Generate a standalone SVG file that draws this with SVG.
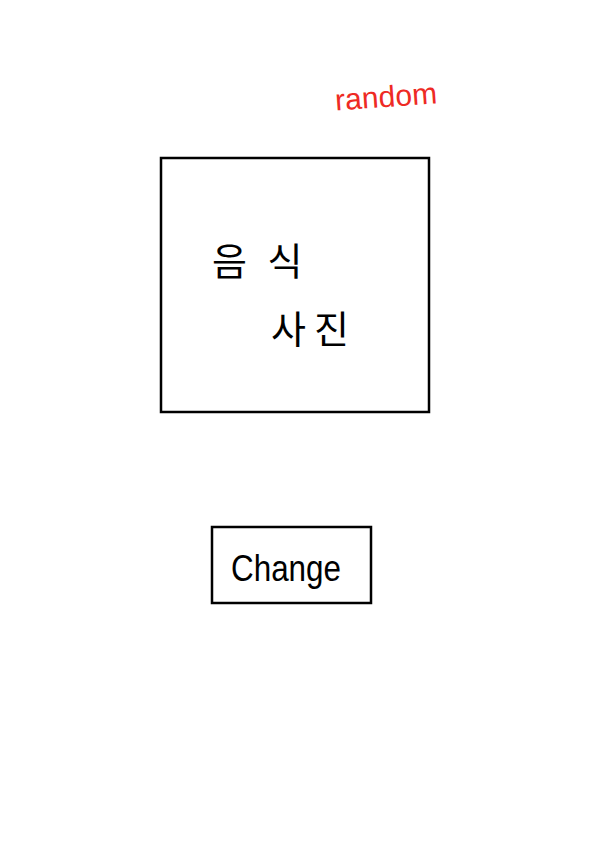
<svg xmlns="http://www.w3.org/2000/svg" width="605" height="844" viewBox="0 0 605 844">
<style>
.box{fill:#fff;stroke:#000;stroke-width:2.5}
.ko{font-family:"Noto Sans CJK KR","Noto Sans",sans-serif;font-size:38px;fill:#000}
.en{font-family:"Liberation Sans",Arial,sans-serif;fill:#000}
</style>
<rect width="605" height="844" fill="#fff"/>
<g id="random-label">
<text class="en" x="335" y="107" font-size="30" style="fill:#ee2a24" transform="rotate(-4 385 97)" textLength="102">random</text>
</g>
<g id="photo-box">
<rect class="box" x="161" y="158" width="268" height="254"/>
<text class="ko" x="212" y="275" word-spacing="12">음 식</text>
<text class="ko" x="271" y="343" letter-spacing="8">사진</text>
</g>
<g id="change-button">
<rect class="box" x="212" y="527" width="159" height="76"/>
<text class="en" x="231" y="581" font-size="36" textLength="110" lengthAdjust="spacingAndGlyphs">Change</text>
</g>
<g id="connectors"/>
</svg>
